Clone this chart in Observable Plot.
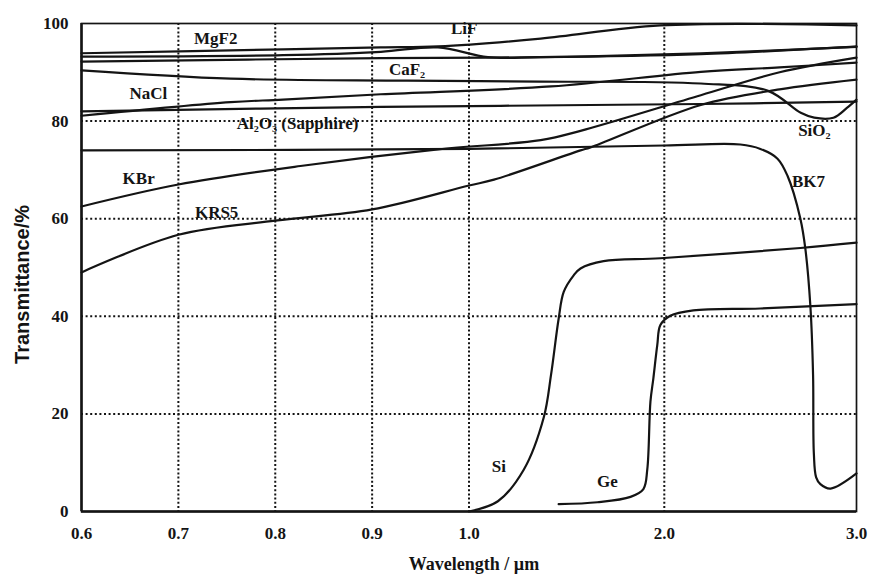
<!DOCTYPE html>
<html><head><meta charset="utf-8">
<script src="https://cdn.jsdelivr.net/npm/d3@7"></script>
<script src="https://cdn.jsdelivr.net/npm/@observablehq/plot@0.6"></script>
<style>html,body{margin:0;padding:0;background:#fff;overflow:hidden}svg{display:block}</style>
</head><body><div id="chart"></div>
<script>
// ---- axis values ----
const xTicks = [0.6, 0.7, 0.8, 0.9, 1.0, 2.0, 3.0];
const yTicks = [0, 20, 40, 60, 80, 100];
const xGrid = [0.7, 0.8, 0.9, 1.0, 2.0];
const yGrid = [20, 40, 60, 80];

// ---- curves (wavelength µm, transmittance %) ----
const lifWl  = [0.6, 0.808, 0.909, 0.968, 1.367, 1.98, 3.0];
const lifT   = [93.9, 94.7, 95.1, 95.3, 96.9, 99.6, 99.6];
const mgf2Wl = [0.6, 0.808, 0.909, 0.968, 1.097, 1.367, 2.19, 3.0];
const mgf2T  = [93.2, 93.5, 94.2, 95.1, 93.1, 93.1, 93.7, 95.3];
const caf2Wl = [0.6, 0.909, 1.367, 2.19, 3.0];
const caf2T  = [92.2, 92.9, 93.1, 93.9, 95.2];
const naclWl = [0.6, 0.754, 0.808, 0.909, 1.42, 2.19, 2.6, 3.0];
const naclT  = [81.1, 83.9, 84.4, 85.5, 87.1, 90.1, 91.0, 92.0];
const sappWl = [0.6, 0.909, 2.19, 3.0];
const sappT  = [82.0, 82.9, 83.5, 84.0];
const sio2Wl = [0.6, 0.754, 0.936, 1.367, 2.19, 2.54, 2.71, 2.78, 2.88, 2.95, 3.0];
const sio2T  = [90.4, 88.7, 88.3, 88.1, 87.7, 86.2, 81.7, 80.7, 80.7, 82.7, 84.4];
const kbrWl  = [0.6, 0.7, 0.826, 0.968, 1.367, 1.571, 2.19, 2.6, 3.0];
const kbrT   = [62.5, 67.0, 70.8, 74.2, 76.1, 78.0, 85.3, 90.0, 93.0];
const krs5Wl = [0.6, 0.7, 0.8, 0.9, 1.0, 1.128, 1.571, 1.622, 2.19, 2.6, 3.0];
const krs5T  = [49.0, 56.7, 59.6, 61.9, 66.8, 68.0, 74.0, 74.6, 83.3, 86.5, 88.5];
const bk7Wl  = [0.6, 1.0, 2.0, 2.396, 2.5, 2.589, 2.641, 2.708, 2.734, 2.76, 2.774, 2.778, 2.79, 2.812, 2.865, 3.0];
const bk7T   = [74.0, 74.3, 75.0, 75.2, 74.3, 72.3, 68.8, 60.0, 53.8, 42.1, 28.0, 12.0, 7.0, 5.6, 4.7, 7.8];
const siWl   = [1.0, 1.148, 1.281, 1.383, 1.42, 1.459, 1.485, 1.536, 1.571, 1.689, 1.98, 2.708, 3.0];
const siT    = [0.0, 2.1, 8.6, 19.3, 28.0, 39.5, 45.0, 48.4, 49.8, 51.3, 51.9, 54.0, 55.1];
const geWl   = [1.459, 1.658, 1.827, 1.893, 1.913, 1.929, 1.944, 1.964, 1.98, 2.031, 2.151, 2.5, 3.0];
const geT    = [1.5, 1.9, 3.0, 4.6, 8.7, 22.5, 27.3, 34.1, 38.2, 40.1, 41.2, 41.6, 42.5];

const seriesNames = ["LiF", "MgF2", "CaF2", "NaCl", "Sapphire", "SiO2", "KBr", "KRS5", "BK7", "Si", "Ge"];
const seriesWl = [lifWl, mgf2Wl, caf2Wl, naclWl, sappWl, sio2Wl, kbrWl, krs5Wl, bk7Wl, siWl, geWl];
const seriesT  = [lifT, mgf2T, caf2T, naclT, sappT, sio2T, kbrT, krs5T, bk7T, siT, geT];

// ---- curve labels ----
const labelText = ["MgF2", "LiF", "CaF\u2082", "NaCl", "Al\u2082O\u2083 (Sapphire)", "SiO\u2082", "KBr", "KRS5", "BK7", "Si", "Ge"];
const labelWl   = [0.7385, 0.995, 0.936, 0.669, 0.823, 2.781, 0.659, 0.7395, 2.75, 1.153, 1.709];
const labelT    = [97.0, 99.0, 90.5, 85.6, 79.6, 78.1, 68.2, 61.2, 67.6, 9.2, 6.1];

const rows = seriesNames.flatMap((name, k) => seriesWl[k].map((w, i) => ({material: name, wl: w, t: seriesT[k][i]})));
const labels = labelText.map((s, i) => ({text: s, wl: labelWl[i], t: labelT[i]}));

const W = 870, H = 576, mL = 81, mR = 14, mT = 23, mB = 65;
const pw = W - mL - mR;
const serif = "'Liberation Serif', 'Times New Roman', 'DejaVu Serif', serif";
const ink = "#141414";

const chart = Plot.plot({
  width: W, height: H,
  marginLeft: mL, marginRight: mR, marginTop: mT, marginBottom: mB,
  style: {fontFamily: serif, fontSize: "17px", color: ink, background: "#fff"},
  x: {type: "linear", domain: [0.6, 1.0, 2.0, 3.0], range: [mL, mL + 0.5 * pw, mL + 0.752 * pw, W - mR]},
  y: {domain: [0, 100]},
  marks: [
    Plot.ruleX(xGrid, {stroke: ink, strokeWidth: 2, strokeDasharray: "2,2.2"}),
    Plot.ruleY(yGrid, {stroke: ink, strokeWidth: 2, strokeDasharray: "2,2.6"}),
    Plot.frame({stroke: ink, strokeWidth: 1.7}),
    Plot.ruleX([0.6], {stroke: ink, strokeWidth: 2.5}),
    Plot.ruleY([0], {stroke: ink, strokeWidth: 2.5}),
    Plot.line(rows, {x: "wl", y: "t", z: "material", curve: "catmull-rom", stroke: ink, strokeWidth: 2.2}),
    Plot.text(labels, {x: "wl", y: "t", text: "text", fill: ink, fontSize: 17, fontWeight: "bold", fontFamily: serif}),
    Plot.axisX({ticks: xTicks, tickFormat: d3.format(".1f"), tickSize: 0, tickPadding: 15, label: null, fontSize: 17, fontWeight: "bold", fontFamily: serif}),
    Plot.axisY({ticks: yTicks, tickSize: 0, tickPadding: 13, label: null, fontSize: 17, fontWeight: "bold", fontFamily: serif}),
    Plot.text(["Transmittance/%"], {text: d => d, frameAnchor: "left", textAnchor: "middle", dx: -59, dy: 17, rotate: -90, fontSize: 20, fontWeight: "bold", fontFamily: "'Liberation Sans', Arial, sans-serif", fill: ink}),
    Plot.text(["Wavelength / \u00b5m"], {text: d => d, frameAnchor: "bottom", dx: 5, dy: 58, fontSize: 18, fontWeight: "bold", fontFamily: serif, fill: ink})
  ]
});
document.getElementById("chart").appendChild(chart);
</script>
</body></html>
